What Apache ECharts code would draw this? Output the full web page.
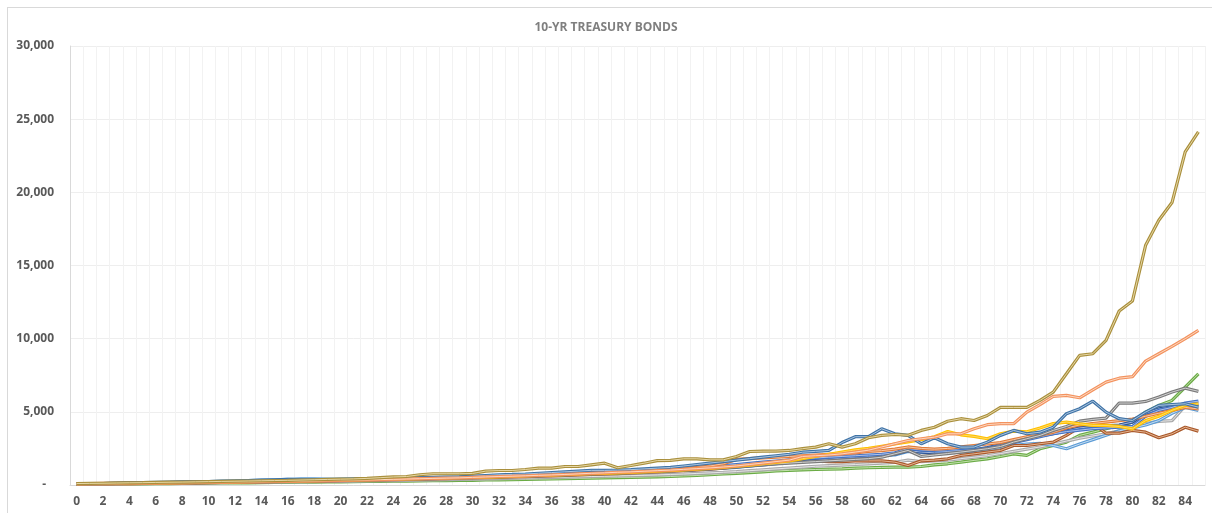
<!DOCTYPE html>
<html>
<head>
<meta charset="utf-8">
<style>
  html, body { margin: 0; padding: 0; background: #fff; }
  #frame { position: absolute; left: 7px; top: 7px; width: 1220px; height: 520px; border: 1px solid #D9D9D9; box-sizing: border-box; }
  #chart { position: absolute; left: 0; top: 0; width: 1212px; height: 513px; }
</style>
<script src="https://cdn.jsdelivr.net/npm/echarts@6/dist/echarts.min.js"></script>
</head>
<body>
<div id="frame"></div>
<div id="chart"></div>
<script>
// Years held (0..85)
const categories = [
  0,1,2,3,4,5,6,7,8,9,10,11,12,13,14,15,16,17,18,19,20,21,22,23,24,25,26,27,28,29,
  30,31,32,33,34,35,36,37,38,39,40,41,42,43,44,45,46,47,48,49,50,51,52,53,54,55,56,57,58,59,
  60,61,62,63,64,65,66,67,68,69,70,71,72,73,74,75,76,77,78,79,80,81,82,83,84,85
];

const yTicks = [0, 5000, 10000, 15000, 20000, 25000, 30000];

// Growth paths
const green = [
  50,55,60,70,75,80,90,100,110,115,
  125,135,145,150,160,170,180,190,200,210,
  220,230,240,250,260,270,280,290,300,310,
  320,340,350,360,380,400,410,430,450,470,
  490,510,520,540,560,580,620,650,700,750,
  800,850,900,960,1000,1040,1060,1080,1100,1150,
  1180,1200,1220,1220,1265,1380,1450,1560,1680,1790,
  1950,2130,2020,2480,2700,2930,3390,3610,3840,4070,
  4300,4980,5440,5780,6690,7600
];
const lightGray = [
  50,60,70,80,90,100,110,120,130,140,
  150,160,170,180,190,200,210,220,230,240,
  250,260,275,290,305,320,335,350,365,380,
  400,420,440,460,480,500,520,540,560,580,
  600,620,640,660,690,720,750,790,830,870,
  920,980,1040,1100,1160,1220,1280,1320,1360,1400,
  1450,1500,1550,1700,1600,1650,1700,1800,1900,2000,
  2150,2300,2450,2600,2800,3000,3200,3350,3500,3700,
  4000,4200,4350,4400,5400,5300
];
const lightBlue = [
  60,75,90,105,120,135,150,170,190,210,
  230,250,270,300,330,360,390,420,420,410,
  410,420,430,440,450,460,480,500,520,540,
  560,580,600,620,650,680,710,740,770,800,
  830,860,890,920,950,980,1020,1060,1100,1150,
  1200,1300,1400,1500,1600,1700,1750,1800,1850,1900,
  1950,2000,2050,2300,2250,2200,2200,2250,2300,2400,
  2550,2700,2800,2850,2700,2480,2800,3100,3400,3700,
  3900,4100,4400,4900,5300,5100
];
const brown = [
  60,70,80,90,100,110,120,130,140,150,
  160,170,185,200,210,225,240,255,270,285,
  300,315,330,345,360,380,400,420,440,460,
  480,500,520,545,570,600,630,660,690,720,
  750,780,820,860,900,940,980,1030,1080,1150,
  1250,1350,1450,1550,1600,1650,1650,1600,1600,1650,
  1650,1650,1560,1330,1650,1700,1790,2020,2130,2250,
  2360,2700,2700,2820,2930,3390,3950,4190,3540,3540,
  3730,3610,3230,3500,3950,3680
];
const navy = [
  75,85,95,105,115,125,140,155,170,185,
  200,215,230,245,260,275,290,305,320,335,
  350,365,380,395,410,430,450,470,490,510,
  530,550,575,600,625,650,680,710,740,770,
  800,830,860,900,940,980,1020,1070,1120,1180,
  1240,1300,1380,1460,1540,1600,1680,1760,1840,1900,
  1950,2000,2100,2350,2250,2200,2250,2300,2400,2550,
  2750,3000,3200,3350,3500,3700,3900,4000,4050,4100,
  4300,4900,5200,5350,5400,5500
];
const blue = [
  70,80,95,110,125,140,150,165,180,195,
  210,225,240,255,270,285,300,315,330,345,
  360,375,390,410,430,450,470,490,510,530,
  555,580,610,640,670,700,730,760,800,840,
  880,920,960,1000,1050,1100,1150,1200,1260,1320,
  1400,1480,1560,1640,1720,1800,1850,1900,1950,2000,
  2050,2100,2200,2500,2400,2350,2300,2350,2400,2500,
  2700,2900,3100,3300,3500,3650,3750,3850,3900,3950,
  4000,4700,5100,5300,5600,5730
];
const orange = [
  90,100,110,120,130,140,150,160,175,190,
  205,220,235,250,265,280,295,310,325,340,
  355,370,385,400,420,440,460,480,500,520,
  545,570,600,630,660,690,720,750,780,810,
  840,870,900,950,1000,1050,1100,1200,1300,1450,
  1750,1800,1850,1900,1950,2000,2050,2100,2150,2200,
  2300,2350,2450,2600,2500,2450,2500,2600,2700,2800,
  2900,3100,3300,3400,3600,3900,4100,4200,4300,4400,
  4500,4700,4900,5100,5300,5200
];
const gray = [
  70,80,90,100,110,120,130,140,150,160,
  175,190,200,215,230,240,255,270,285,300,
  315,330,345,360,380,400,420,440,460,480,
  500,520,545,570,600,630,660,690,720,750,
  780,810,840,880,920,960,1000,1050,1100,1160,
  1230,1300,1380,1450,1500,1550,1600,1650,1700,1750,
  1800,1900,2130,2360,1950,2050,2150,2250,2360,2480,
  2630,2930,3160,3390,3730,4000,4360,4480,4570,5600,
  5600,5710,6010,6350,6620,6400
];
const yellow = [
  80,90,100,110,120,130,140,150,160,170,
  180,195,210,225,240,255,270,285,300,315,
  330,345,360,380,400,420,440,460,480,500,
  520,540,560,590,620,650,680,710,740,770,
  800,830,860,900,940,980,1030,1080,1130,1200,
  1280,1360,1450,1550,1650,1800,1950,2100,2250,2400,
  2500,2650,2800,2950,3100,3300,3660,3430,3320,3160,
  3500,3680,3640,3890,4200,4300,4180,4070,4070,4000,
  3840,4400,4700,5100,5440,5550
];
const steelBlue = [
  80,90,100,120,140,160,180,200,210,220,
  240,260,280,300,330,360,380,360,350,360,
  380,400,420,440,460,480,500,520,540,560,
  600,650,700,720,750,800,850,900,950,1000,
  1000,1020,1050,1100,1150,1200,1300,1400,1500,1600,
  1700,1800,1900,2000,2100,2240,2300,2360,2900,3300,
  3300,3840,3500,3390,2820,3230,2820,2590,2590,2930,
  3390,3730,3500,3610,3950,4870,5210,5730,4980,4530,
  4410,4980,5440,5500,5550,5320
];
const salmon = [
  60,70,80,90,100,110,120,140,150,160,
  170,185,200,210,225,240,250,265,280,300,
  310,330,350,370,390,410,430,450,470,490,
  520,550,580,600,630,660,690,720,760,800,
  830,870,900,940,980,1020,1070,1120,1170,1230,
  1300,1400,1500,1600,1700,1950,2000,2050,2130,2250,
  2380,2600,2820,3040,3160,3270,3500,3500,3840,4120,
  4190,4190,4980,5500,6050,6120,5960,6500,7030,7300,
  7400,8470,8970,9470,10000,10570
];
const gold = [
  100,110,120,135,150,160,175,190,200,215,
  230,245,260,275,290,305,320,340,360,380,
  400,420,450,500,550,580,700,770,770,770,
  790,950,990,990,1060,1150,1150,1265,1265,1380,
  1490,1180,1330,1490,1670,1680,1790,1790,1720,1720,
  1950,2290,2310,2320,2360,2480,2590,2820,2590,2820,
  3230,3390,3450,3400,3730,3950,4360,4530,4410,4750,
  5300,5300,5300,5780,6350,7600,8860,8970,9880,11890,
  12570,16380,18090,19300,22760,24130
];

// Drawing order (bottom to top) and the two-tone stroke of each path
const paths = [green, lightGray, lightBlue, brown, navy, blue, orange, gray, yellow, steelBlue, salmon, gold];
const edgeColors  = ['#6AAB45', '#A8A8A8', '#5B9BD5', '#A9582A', '#2F5597', '#4472C4', '#E07B39', '#7A7A7A', '#FFC000', '#3F73A6', '#F3925E', '#A98F3C'];
const coreColors  = ['#C3E0AE', '#E6E6E6', '#C9DFF3', '#E4B593', '#A3B8DE', '#AFC3EA', '#F7C7A6', '#D2D2D2', '#FFD966', '#ADC6E0', '#FCD8C0', '#E6D7A6'];

const series = [];
paths.forEach(function (d, k) {
  series.push({
    type: 'line', data: d, symbol: 'none', silent: true,
    lineStyle: { color: edgeColors[k], width: 3.2 }
  });
  series.push({
    type: 'line', data: d, symbol: 'none', silent: true,
    lineStyle: { color: coreColors[k], width: 1 }
  });
});

const chart = echarts.init(document.getElementById('chart'), null, { renderer: 'canvas' });
chart.setOption({
  animation: false,
  backgroundColor: 'transparent',
  title: {
    text: '10-YR TREASURY BONDS',
    left: 'center',
    top: 17,
    textStyle: { fontFamily: 'Open Sans', fontSize: 12, fontWeight: 'bold', color: '#7F7F7F' }
  },
  grid: { left: 70, right: 7, top: 46, bottom: 28 },
  xAxis: {
    type: 'category',
    data: categories,
    boundaryGap: true,
    axisLine: { show: true, lineStyle: { color: '#D9D9D9' } },
    axisTick: { show: false },
    axisLabel: {
      interval: 1, margin: 11,
      fontFamily: 'Open Sans', fontSize: 12, fontWeight: 'bold', color: '#595959'
    },
    splitLine: { show: true, interval: 0, lineStyle: { color: '#F2F2F2', width: 1 } }
  },
  yAxis: {
    type: 'value',
    min: yTicks[0],
    max: yTicks[yTicks.length - 1],
    interval: yTicks[1] - yTicks[0],
    axisLine: { show: true, lineStyle: { color: '#D9D9D9' } },
    axisTick: { show: false },
    axisLabel: {
      margin: 16,
      fontFamily: 'Open Sans', fontSize: 12, fontWeight: 'bold', color: '#595959',
      formatter: function (v) { return v === 0 ? '{d|-}' : v.toLocaleString('en-US'); },
      rich: { d: { padding: [0, 8, 0, 0], fontFamily: 'Open Sans', fontSize: 12, fontWeight: 'bold', color: '#595959' } }
    },
    splitLine: { show: true, lineStyle: { color: '#EEEEEE', width: 1 } }
  },
  series: series
});
</script>
</body>
</html>
